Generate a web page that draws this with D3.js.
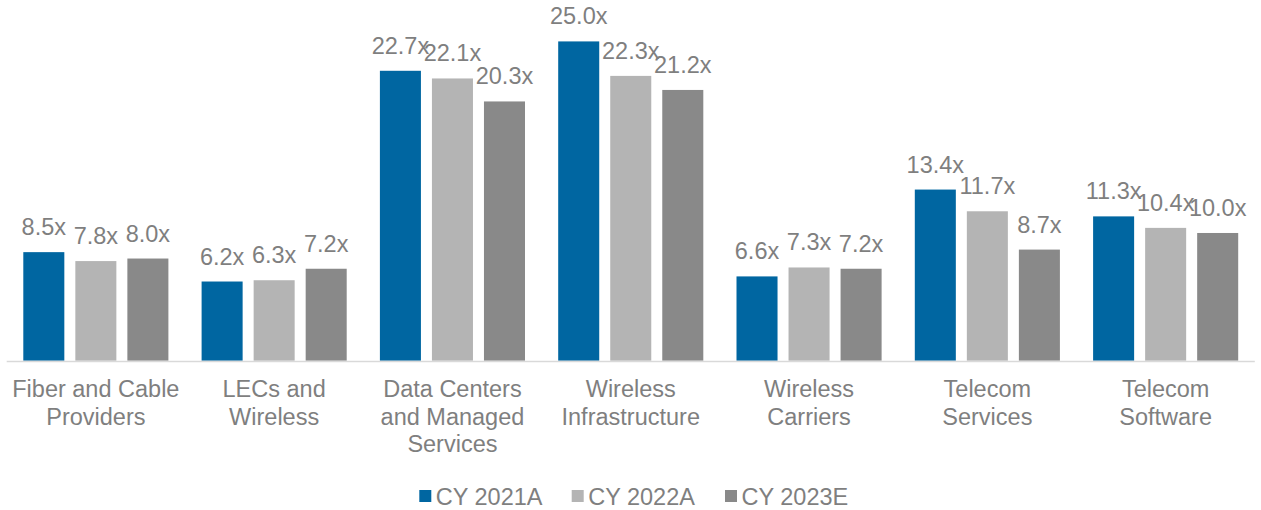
<!DOCTYPE html>
<html>
<head>
<meta charset="utf-8">
<script src="https://cdn.jsdelivr.net/npm/d3@7"></script>
<style>
  html, body { margin: 0; padding: 0; background: #fff; }
  svg { display: block; font-family: "Liberation Sans", Arial, sans-serif; }
</style>
</head>
<body>
<svg id="chart" width="1261" height="510"></svg>
<script>
// EV / EBITDA multiples by telecom sub-sector
const categories = [
  ["Fiber and Cable", "Providers"],
  ["LECs and", "Wireless"],
  ["Data Centers", "and Managed", "Services"],
  ["Wireless", "Infrastructure"],
  ["Wireless", "Carriers"],
  ["Telecom", "Services"],
  ["Telecom", "Software"]
];
const seriesNames = ["CY 2021A", "CY 2022A", "CY 2023E"];
const cy2021A = [8.5, 6.2, 22.7, 25.0, 6.6, 13.4, 11.3];
const cy2022A = [7.8, 6.3, 22.1, 22.3, 7.3, 11.7, 10.4];
const cy2023E = [8.0, 7.2, 20.3, 21.2, 7.2, 8.7, 10.0];
const seriesValues = [cy2021A, cy2022A, cy2023E];
const colors = ["#0066a1", "#b4b4b4", "#898989"];
const yMax = 28;

const svg = d3.select("#chart");
const textColor = "#7f7f7f";

const catKeys = categories.map(c => c.join(" "));
const x0 = d3.scaleBand().domain(catKeys).range([6.7, 1254.8]).paddingInner(0).paddingOuter(0);
const x1 = d3.scaleBand().domain(seriesNames)
  .range([16.6, x0.bandwidth() - 16.6]).paddingInner(0.2115).paddingOuter(0);
const y = d3.scaleLinear().domain([0, yMax]).range([360.7, 3.1]);

const rows = catKeys.map((k, i) => ({
  key: k,
  lines: categories[i],
  vals: seriesNames.map((s, j) => ({ series: s, idx: j, v: seriesValues[j][i] }))
}));

const fmt = d3.format(".1f");

const groups = svg.append("g").selectAll("g").data(rows).join("g")
  .attr("transform", d => `translate(${x0(d.key)},0)`);

groups.selectAll("rect").data(d => d.vals).join("rect")
  .attr("x", d => x1(d.series))
  .attr("y", d => y(d.v))
  .attr("width", x1.bandwidth())
  .attr("height", d => y(0) - y(d.v))
  .attr("fill", d => colors[d.idx]);

groups.selectAll("text.val").data(d => d.vals).join("text")
  .attr("class", "val")
  .attr("x", d => x1(d.series) + x1.bandwidth() / 2)
  .attr("y", d => y(d.v) - 17)
  .attr("text-anchor", "middle")
  .attr("font-size", "23.5px")
  .attr("fill", textColor)
  .text(d => fmt(d.v) + "x");

// Category axis baseline
svg.append("line")
  .attr("x1", x0.range()[0]).attr("x2", x0.range()[1])
  .attr("y1", y(0) + 0.8).attr("y2", y(0) + 0.8)
  .attr("stroke", "#d9d9d9").attr("stroke-width", 1.6);

// Category labels
const xAxis = svg.append("g");
rows.forEach(r => {
  const t = xAxis.append("text")
    .attr("x", x0(r.key) + x0.bandwidth() / 2)
    .attr("y", 397.3)
    .attr("text-anchor", "middle")
    .attr("font-size", "23.5px")
    .attr("fill", textColor);
  r.lines.forEach((ln, i) => {
    t.append("tspan")
      .attr("x", x0(r.key) + x0.bandwidth() / 2)
      .attr("dy", i === 0 ? 0 : 27.5)
      .text(ln);
  });
});

// Legend
const legendX = [419.3, 571.7, 725];
const legend = svg.append("g");
seriesNames.forEach((s, i) => {
  legend.append("rect")
    .attr("x", legendX[i]).attr("y", 490)
    .attr("width", 12).attr("height", 12)
    .attr("fill", colors[i]);
  legend.append("text")
    .attr("x", legendX[i] + 16.5).attr("y", 505)
    .attr("font-size", "23.5px")
    .attr("fill", textColor)
    .text(s);
});
</script>
</body>
</html>
